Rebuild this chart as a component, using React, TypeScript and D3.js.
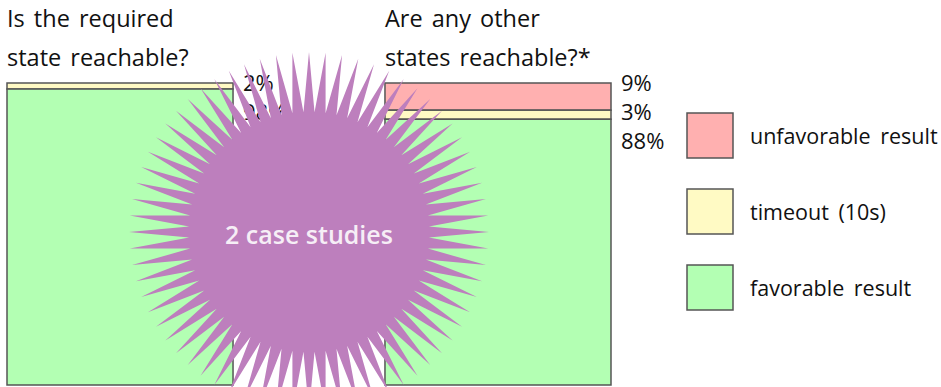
import React from "react";
import * as d3 from "d3";

const questions = ["Is the required|state reachable?", "Are any other|states reachable?*"];
const seriesNames = ["unfavorable", "timeout", "favorable"];
const legendLabels = ["unfavorable result", "timeout (10s)", "favorable result"];
const unfavorable = [0, 9];
const timeout = [2, 3];
const favorable = [98, 88];
const colors = ["#ffb0b0", "#fffac4", "#b3ffb3"];
const burstText = "2 case studies";
const burstSpikes = 68;

const W = 941;
const H = 387;
const FONT = "'Open Sans', 'Noto Sans', sans-serif";

export default function App() {
  const rows = questions.map((q, i) => ({
    q,
    unfavorable: unfavorable[i],
    timeout: timeout[i],
    favorable: favorable[i],
  }));
  const stack = d3.stack<any>().keys(seriesNames);
  const layers = stack(rows);

  const x = d3.scaleBand<string>().domain(questions).range([7, 611]).paddingInner(0.402);
  const y = d3.scaleLinear().domain([0, 100]).range([83, 385]);
  const color = d3.scaleOrdinal<string, string>().domain(seriesNames).range(colors);

  // starburst
  const cx = 309, cy = 232, rOut = 180, rIn = 120;
  const n = burstSpikes * 2;
  const pts: [number, number][] = d3.range(n).map((k) => [
    (k / n) * 2 * Math.PI,
    k % 2 === 0 ? rOut : rIn,
  ]);
  const burst = d3.lineRadial().curve(d3.curveLinearClosed)(pts) || "";

  const legendY = d3.scalePoint<string>().domain(seriesNames).range([135.5, 287.5]);

  return (
    <svg width={W} height={H} style={{ position: "absolute", left: 0, top: 0, background: "#fff" }}>
      {questions.map((q) => (
        <text key={q} x={x(q)} y={27} fontFamily={FONT} fontSize={23.5} fill="#111">
          {q.split("|").map((line, li) => (
            <tspan key={li} x={x(q)} y={27 + li * 39} style={{ wordSpacing: "3px" }}>
              {line}
            </tspan>
          ))}
        </text>
      ))}
      {layers.map((layer) => (
        <g key={layer.key}>
          {layer.map((d, i) =>
            d[1] - d[0] > 0 ? (
              <rect
                key={i}
                x={x(questions[i])}
                y={y(d[0])}
                width={x.bandwidth()}
                height={y(d[1]) - y(d[0])}
                fill={color(layer.key)}
                stroke="#555"
                strokeWidth={1.5}
              />
            ) : null
          )}
        </g>
      ))}
      {questions.map((q, i) => {
        const vals = seriesNames
          .map((s) => (s === "unfavorable" ? unfavorable[i] : s === "timeout" ? timeout[i] : favorable[i]))
          .filter((v) => v > 0);
        return vals.map((v, j) => (
          <text
            key={q + j}
            x={(x(q) as number) + x.bandwidth() + 10}
            y={91 + j * 29}
            fontFamily={FONT}
            fontSize={22}
            fill="#111"
          >
            {v}%
          </text>
        ));
      })}
      {seriesNames.map((s, i) => (
        <g key={s}>
          <rect
            x={687}
            y={(legendY(s) as number) - 22.5}
            width={46}
            height={45}
            fill={color(s)}
            stroke="#555"
            strokeWidth={1.5}
          />
          <text x={750} y={(legendY(s) as number) + 8} fontFamily={FONT} fontSize={21.5} fill="#111" style={{ wordSpacing: "4px" }}>
            {legendLabels[i]}
          </text>
        </g>
      ))}
      <path d={burst} transform={`translate(${cx},${cy})`} fill="#bd7fbd" />
      <text
        x={cx}
        y={244}
        textAnchor="middle"
        fontFamily={FONT}
        fontSize={25}
        fontWeight={600}
        fill="#f6eef6"
      >
        {burstText}
      </text>
    </svg>
  );
}
